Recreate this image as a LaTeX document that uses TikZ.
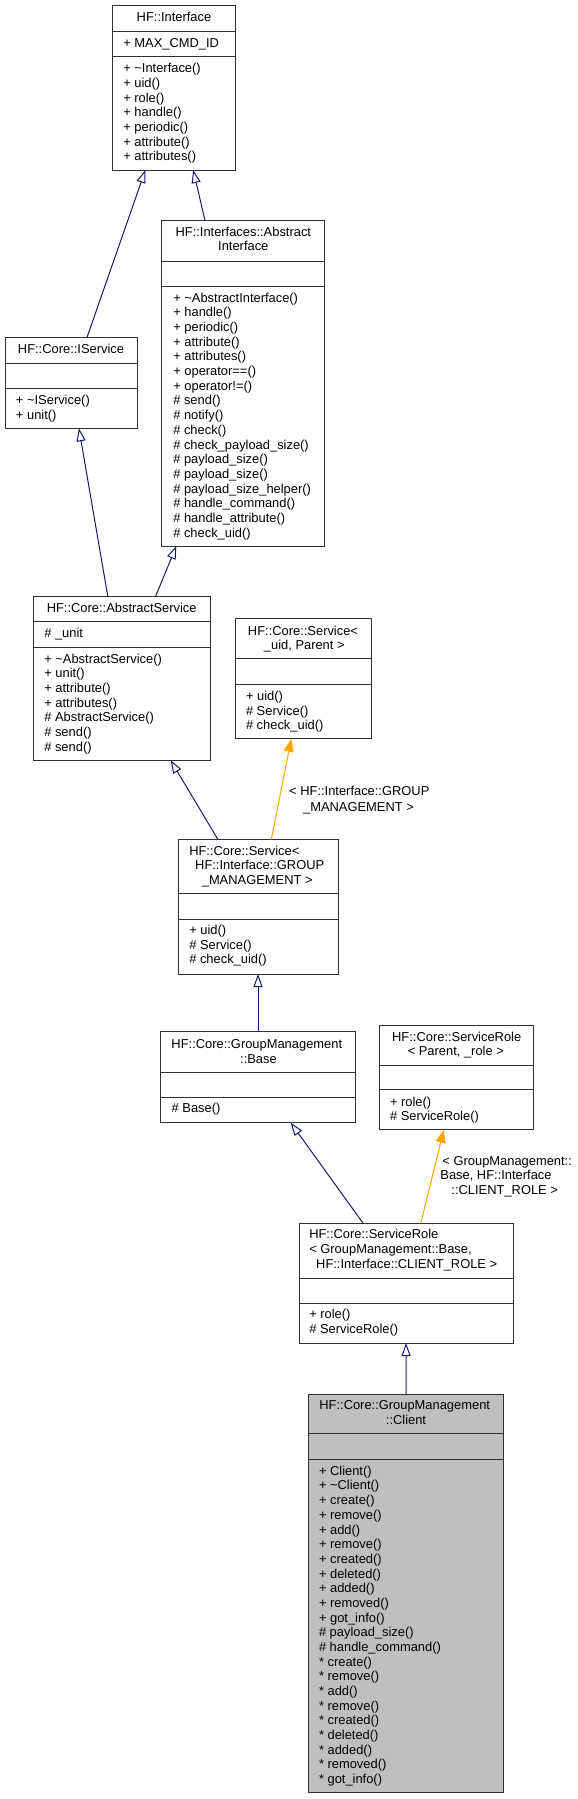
\documentclass[tikz,border=0pt]{standalone}
\usepackage{fontspec}
\setmainfont{Liberation Sans}
\usetikzlibrary{arrows.meta}
\definecolor{edgeblue}{HTML}{191970}
\definecolor{edgeorange}{HTML}{FFA500}
\definecolor{boxc}{HTML}{303030}
\definecolor{clientfill}{HTML}{BFBFBF}
\tikzset{
  cbox/.style={draw=boxc, line width=1pt, fill=white, inner sep=0pt, outer sep=0pt},
  cdiv/.style={draw=boxc, line width=1pt},
  txt/.style={inner sep=0pt, outer sep=0pt, text height=9.2pt, text depth=0pt, font=\fontsize{12.9}{14.67}\selectfont, text=black},
  inh/.style={draw=edgeblue, line width=1pt, -{Triangle[open, fill=white, length=13pt, width=9pt]}},
  tmpl/.style={draw=edgeorange, line width=1pt, -{Triangle[length=13pt, width=10pt, fill=edgeorange]}},
}
\newcommand\classbox[8]{%
  \node[cbox,#8,anchor=north west,minimum width={#4pt-#2pt},minimum height={#5pt-#3pt}] (#1) at (#2,#3) {};
  \draw[cdiv] (#2,#6) -- (#4,#6);
  \draw[cdiv] (#2,#7) -- (#4,#7);}
\newcommand\memberlist[4]{%
  \foreach \t [count=\i from 0] in {#4} {\node[txt,anchor=west] (#1-m\i) at (#2,{#3+\i*14.67}) {\t};}}
\begin{document}
\begin{tikzpicture}[x=1pt,y=-1pt]
\useasboundingbox (0,0) rectangle (578,1799);

% ---------- boxes ----------
\classbox{Interface}{112.7}{5.7}{235.3}{170}{31.7}{56.7}{}
\node[txt] (Interface-t1) at (174,17.3) {HF::Interface};
\node[txt,anchor=west] (Interface-a) at (123.3,42.7) {+ MAX\_CMD\_ID};
\memberlist{Interface}{123.3}{68.3}{+ \textasciitilde Interface(), + uid(), + role(), + handle(), + periodic(), + attribute(), + attributes()}

\classbox{AI}{161.7}{220.7}{324.7}{546}{261}{286}{}
\node[txt] (AI-t1) at (243.3,232.3) {HF::Interfaces::Abstract};
\node[txt] (AI-t2) at (243.3,246.3) {Interface};
\memberlist{AI}{173.3}{297.7}{+ \textasciitilde AbstractInterface(), + handle(), + periodic(), + attribute(), + attributes(), + operator==(), + operator!=(), \# send(), \# notify(), \# check(), \# check\_payload\_size(), \# payload\_size(), \# payload\_size(), \# payload\_size\_helper(), \# handle\_command(), \# handle\_attribute(), \# check\_uid()}

\classbox{IService}{5}{337.7}{137.3}{428.3}{363.3}{388.3}{}
\node[txt] (IService-t1) at (71,349.3) {HF::Core::IService};
\memberlist{IService}{16}{400}{+ \textasciitilde IService(), + unit()}

\classbox{AS}{33}{596.7}{210.7}{760.3}{621.7}{647}{}
\node[txt] (AS-t1) at (121.7,608.3) {HF::Core::AbstractService};
\node[txt,anchor=west] (AS-a) at (44.3,633.3) {\# \_unit};
\memberlist{AS}{44.3}{658.7}{+ \textasciitilde AbstractService(), + unit(), + attribute(), + attributes(), \# AbstractService(), \# send(), \# send()}

\classbox{SU}{235.3}{618.7}{371}{738.7}{658.7}{684}{}
\node[txt] (SU-t1) at (303,630.7) {HF::Core::Service<};
\node[txt] (SU-t2) at (304.3,644.7) {\_uid, Parent >};
\memberlist{SU}{246}{696}{+ uid(), \# Service(), \# check\_uid()}

\classbox{SGM}{178}{839.3}{338}{974}{893.7}{919.3}{}
\node[txt,anchor=west] (SGM-t1) at (189.3,850.7) {HF::Core::Service<};
\node[txt] (SGM-t2) at (259.7,865) {HF::Interface::GROUP};
\node[txt] (SGM-t3) at (257.2,880.3) {\_MANAGEMENT >};
\memberlist{SGM}{189.3}{930}{+ uid(), \# Service(), \# check\_uid()}

\classbox{Base}{160.7}{1031.7}{355.3}{1122.7}{1072}{1097}{}
\node[txt] (Base-t1) at (256.8,1043.7) {HF::Core::GroupManagement};
\node[txt] (Base-t2) at (258.5,1058.7) {::Base};
\memberlist{Base}{171.7}{1108.3}{\# Base()}

\classbox{SRP}{379.3}{1025}{533.8}{1129.7}{1065}{1089.7}{}
\node[txt] (SRP-t1) at (456.7,1036.7) {HF::Core::ServiceRole};
\node[txt] (SRP-t2) at (455.8,1050.7) {< Parent, \_role >};
\memberlist{SRP}{390}{1101.7}{+ role(), \# ServiceRole()}

\classbox{SRGM}{299}{1223.3}{513.3}{1343}{1278.3}{1303}{}
\node[txt,anchor=west] (SRGM-t1) at (309.3,1234.3) {HF::Core::ServiceRole};
\node[txt,anchor=west] (SRGM-t2) at (309.3,1249.3) {< GroupManagement::Base,};
\node[txt] (SRGM-t3) at (406.7,1264.3) {HF::Interface::CLIENT\_ROLE >};
\memberlist{SRGM}{309.3}{1314.3}{+ role(), \# ServiceRole()}

\classbox{Client}{308.3}{1394}{503.3}{1792.7}{1433.7}{1459.7}{fill=clientfill}
\node[txt] (Client-t1) at (404.7,1405.3) {HF::Core::GroupManagement};
\node[txt] (Client-t2) at (406,1420.3) {::Client};
\memberlist{Client}{319}{1470.7}{+ Client(), + \textasciitilde Client(), + create(), + remove(), + add(), + remove(), + created(), + deleted(), + added(), + removed(), + got\_info(), \# payload\_size(), \# handle\_command(), * create(), * remove(), * add(), * remove(), * created(), * deleted(), * added(), * removed(), * got\_info()}

% ---------- connectors ----------
\draw[inh] (IService) -- (Interface);
\draw[inh] (AI) -- (Interface);
\draw[inh] (AS) -- (IService);
\draw[inh] (AS) -- (AI);
\draw[inh] (SGM) -- (AS);
\draw[tmpl] (SGM) -- (SU);
\draw[inh] (Base) -- (SGM);
\draw[inh] (SRGM) -- (Base);
\draw[tmpl] (SRGM) -- (SRP);
\draw[inh] (Client) -- (SRGM);

% ---------- template labels ----------
\node[txt] (L1a) at (359.3,791) {< HF::Interface::GROUP};
\node[txt] (L1b) at (358.5,806.7) {\_MANAGEMENT >};
\node[txt] (L2a) at (507.2,1160.7) {< GroupManagement::};
\node[txt] (L2b) at (496,1175.3) {Base, HF::Interface};
\node[txt] (L2c) at (504.7,1190.3) {::CLIENT\_ROLE >};
\end{tikzpicture}
\end{document}
